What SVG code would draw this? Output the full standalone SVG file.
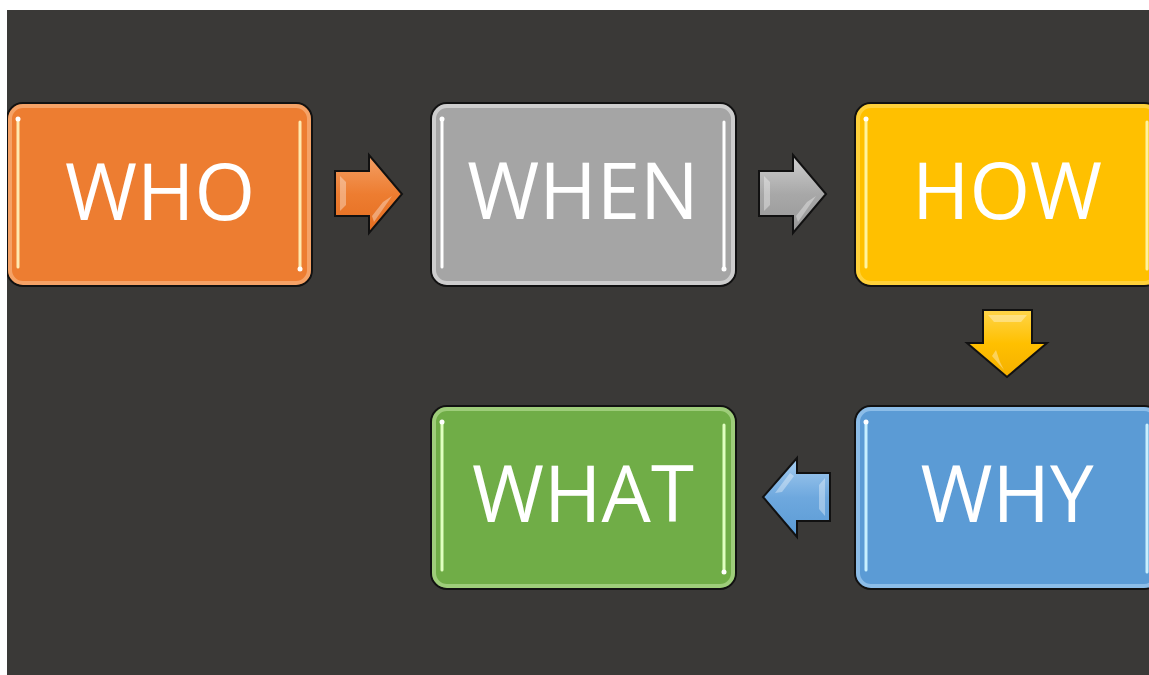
<svg xmlns="http://www.w3.org/2000/svg" width="1149" height="675" viewBox="0 0 1149 675">
  <defs>
    <style>
      .box { stroke: #111; stroke-width: 2; }
      .glow { fill: none; stroke-width: 4; stroke-opacity: 0.45; }
      .hl { stroke-width: 3; stroke-linecap: round; }
      .lbl { font-family: "Open Sans", "Liberation Sans", sans-serif; font-size: 78px; fill: #ffffff; text-anchor: middle; }
      .arrow { stroke: #111; stroke-width: 2; stroke-linejoin: miter; }
      .bev { fill: #ffffff; fill-opacity: 0.35; }
    </style>
    <linearGradient id="gO" x1="0" y1="0" x2="0" y2="1">
      <stop offset="0" stop-color="#f4a066"/><stop offset="0.5" stop-color="#ed7d31"/><stop offset="1" stop-color="#e56d1f"/>
    </linearGradient>
    <linearGradient id="gG" x1="0" y1="0" x2="0" y2="1">
      <stop offset="0" stop-color="#d0d0d0"/><stop offset="0.5" stop-color="#a8a8a8"/><stop offset="1" stop-color="#979797"/>
    </linearGradient>
    <linearGradient id="gY" x1="0" y1="0" x2="0" y2="1">
      <stop offset="0" stop-color="#ffd54a"/><stop offset="0.5" stop-color="#ffc000"/><stop offset="1" stop-color="#f5b000"/>
    </linearGradient>
    <linearGradient id="gB" x1="0" y1="0" x2="0" y2="1">
      <stop offset="0" stop-color="#a6cdf0"/><stop offset="0.5" stop-color="#6ea8de"/><stop offset="1" stop-color="#5b9bd5"/>
    </linearGradient>
    <clipPath id="page"><rect x="7" y="10" width="1142" height="665"/></clipPath>
  </defs>

  <rect x="0" y="0" width="1149" height="675" fill="#ffffff"/>
  <rect x="7" y="10" width="1142" height="665" fill="#3a3937"/>

  <g clip-path="url(#page)">
    <g id="node-who">
      <rect class="box" x="7" y="103" width="305" height="183" rx="16" fill="#ed7d31"/>
      <rect class="glow" x="10" y="106" width="299" height="177" rx="13" stroke="#ffd0a8"/>
      <line class="hl" x1="18" y1="119" x2="18" y2="267" stroke="#ffe9b0"/>
      <circle cx="18" cy="119" r="2.5" fill="#ffffff"/>
      <line class="hl" x1="300" y1="122" x2="300" y2="269" stroke="#ffe9b0"/>
      <circle cx="300" cy="269" r="2.5" fill="#ffffff"/>
      <text class="lbl" x="160" y="220">WHO</text>
    </g>

    <g id="node-when">
      <rect class="box" x="431" y="103" width="305" height="183" rx="16" fill="#a5a5a5"/>
      <rect class="glow" x="434" y="106" width="299" height="177" rx="13" stroke="#ffffff"/>
      <line class="hl" x1="442" y1="119" x2="442" y2="267" stroke="#ffffff"/>
      <circle cx="442" cy="119" r="2.5" fill="#ffffff"/>
      <line class="hl" x1="724" y1="122" x2="724" y2="269" stroke="#ffffff"/>
      <circle cx="724" cy="269" r="2.5" fill="#ffffff"/>
      <text class="lbl" x="583" y="219">WHEN</text>
    </g>

    <g id="node-how">
      <rect class="box" x="855" y="103" width="305" height="183" rx="16" fill="#ffc000"/>
      <rect class="glow" x="858" y="106" width="299" height="177" rx="13" stroke="#ffe680"/>
      <line class="hl" x1="866" y1="119" x2="866" y2="267" stroke="#fff3a0"/>
      <circle cx="866" cy="119" r="2.5" fill="#ffffff"/>
      <line class="hl" x1="1147" y1="122" x2="1147" y2="269" stroke="#fff3a0"/>
      <text class="lbl" x="1007" y="219">HOW</text>
    </g>

    <g id="node-why">
      <rect class="box" x="855" y="406" width="305" height="183" rx="16" fill="#5b9bd5"/>
      <rect class="glow" x="858" y="409" width="299" height="177" rx="13" stroke="#c8e6ff"/>
      <line class="hl" x1="866" y1="422" x2="866" y2="570" stroke="#c8f0ff"/>
      <circle cx="866" cy="422" r="2.5" fill="#ffffff"/>
      <line class="hl" x1="1147" y1="425" x2="1147" y2="572" stroke="#c8f0ff"/>
      <text class="lbl" x="1007" y="522">WHY</text>
    </g>

    <g id="node-what">
      <rect class="box" x="431" y="406" width="305" height="183" rx="16" fill="#70ad47"/>
      <rect class="glow" x="434" y="409" width="299" height="177" rx="13" stroke="#d6f5b8"/>
      <line class="hl" x1="442" y1="422" x2="442" y2="570" stroke="#e0ffc0"/>
      <circle cx="442" cy="422" r="2.5" fill="#ffffff"/>
      <line class="hl" x1="724" y1="425" x2="724" y2="572" stroke="#e0ffc0"/>
      <circle cx="724" cy="572" r="2.5" fill="#ffffff"/>
      <text class="lbl" x="583" y="522">WHAT</text>
    </g>
  </g>

  <g id="connectors">
    <g id="arrow-who-when">
      <polygon class="arrow" fill="url(#gO)" points="335,171 369,171 369,155 402,194 369,233 369,216 335,216"/>
      <polygon class="bev" points="340,176 346,182 346,205 340,211"/>
      <polygon class="bev" points="383,202 392,196 374,222 372,216"/>
    </g>
    <g id="arrow-when-how">
      <polygon class="arrow" fill="url(#gG)" points="759,171 793,171 793,155 826,194 793,233 793,216 759,216"/>
      <polygon class="bev" points="764,176 770,182 770,205 764,211"/>
      <polygon class="bev" points="807,202 816,196 798,222 796,216"/>
    </g>
    <g id="arrow-how-why">
      <polygon class="arrow" fill="url(#gY)" points="983,310 1032,310 1032,343 1047,343 1007,377 967,343 983,343"/>
      <polygon class="bev" points="988,315 1027,315 1021,322 994,322"/>
      <polygon class="bev" points="996,350 1000,362 1004,370 992,356"/>
    </g>
    <g id="arrow-why-what">
      <polygon class="arrow" fill="url(#gB)" points="830,473 797,473 797,458 763,497 797,537 797,521 830,521"/>
      <polygon class="bev" points="825,478 819,485 819,509 825,516"/>
      <polygon class="bev" points="775,493 790,473 794,476 782,492"/>
    </g>
  </g>
</svg>
